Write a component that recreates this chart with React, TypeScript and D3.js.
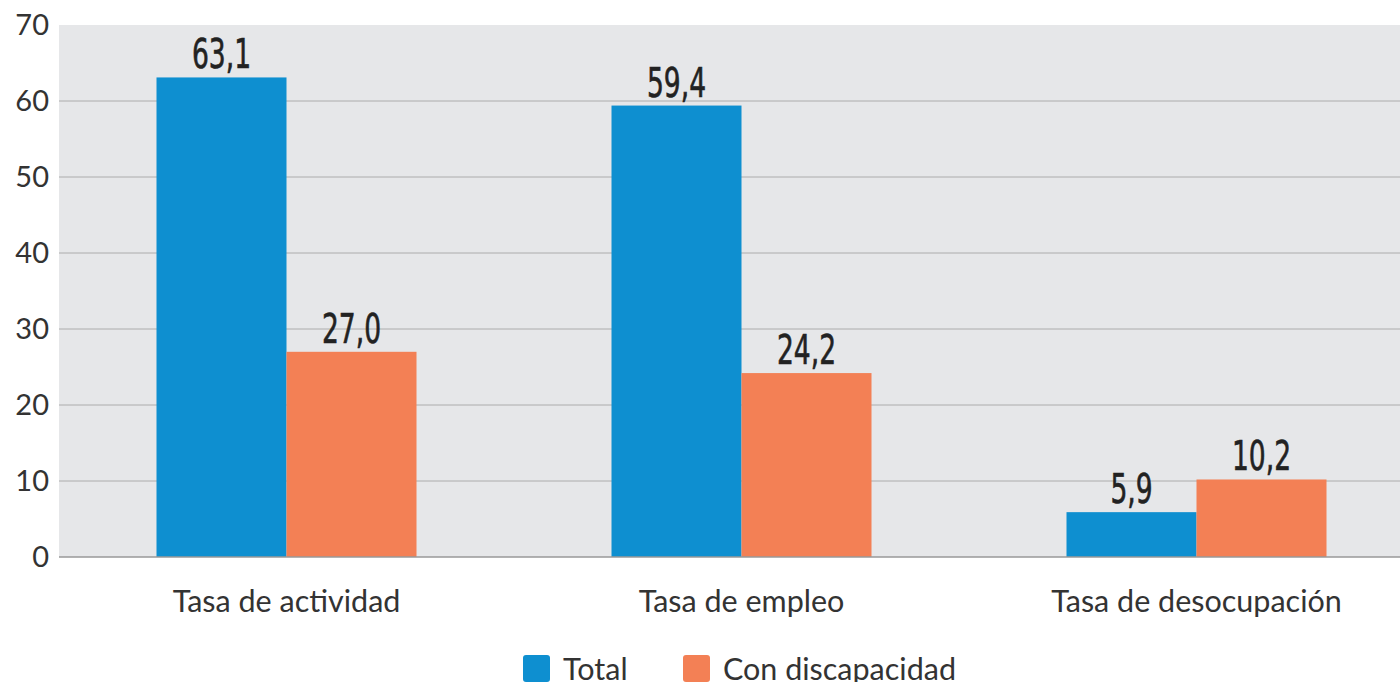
import React from "react";
import * as d3 from "d3";

const categories = ["Tasa de actividad", "Tasa de empleo", "Tasa de desocupación"];
const seriesNames = ["Total", "Con discapacidad"];
const totalValues = [63.1, 59.4, 5.9];
const discapacidadValues = [27.0, 24.2, 10.2];
const yTicks = [0, 10, 20, 30, 40, 50, 60, 70];

const colors = ["#0e8fd0", "#f38055"];

const W = 1400;
const H = 682;
const plot = { left: 59, right: 1424, top: 25, bottom: 557 };

const fmt = (v: number) => v.toFixed(1).replace(".", ",");

const App: React.FC = () => {
	const x = d3.scaleBand<string>().domain(categories).range([plot.left, plot.right]);
	const xs = d3
		.scaleBand<string>()
		.domain(seriesNames)
		.range([0, x.bandwidth()])
		.paddingInner(0)
		.paddingOuter(0.75);
	const y = d3.scaleLinear().domain([0, 70]).range([plot.bottom, plot.top]);

	const rows = categories.map((c, i) => ({
		cat: c,
		vals: [totalValues[i], discapacidadValues[i]],
	}));

	const sans = "Lato, 'Open Sans', sans-serif";
	const narrow = "'Liberation Sans Narrow', 'DejaVu Sans Condensed', sans-serif";

	return (
		<svg
			width={W}
			height={H}
			style={{ position: "absolute", left: 0, top: 0, background: "#fff" }}
		>
			<rect
				x={plot.left}
				y={plot.top}
				width={plot.right - plot.left}
				height={plot.bottom - plot.top}
				fill="#e6e7e9"
			/>
			{yTicks.map((t) => (
				<g key={t}>
					{t > 0 && t < 70 && (
						<line
							x1={plot.left}
							x2={plot.right}
							y1={y(t)}
							y2={y(t)}
							stroke="#acacac"
							strokeWidth={1}
						/>
					)}
					<text
						x={plot.left - 10}
						y={y(t)}
						dy="0.36em"
						textAnchor="end"
						fontFamily={sans}
						fontSize={29}
						fill="#333"
					>
						{t}
					</text>
				</g>
			))}
			{rows.map((r) => (
				<g key={r.cat} transform={`translate(${x(r.cat)},0)`}>
					{r.vals.map((v, j) => {
						const bx = xs(seriesNames[j])!;
						const cx = bx + xs.bandwidth() / 2;
						return (
							<g key={j}>
								<rect
									x={bx}
									y={y(v)}
									width={xs.bandwidth()}
									height={y(0) - y(v)}
									fill={colors[j]}
								/>
								<text
									transform={`translate(${cx},${y(v) - 9}) scale(0.72,1)`}
									textAnchor="middle"
									fontFamily={narrow}
									fontWeight={500}
									fontSize={41}
									fill="#222"
									stroke="#222"
									strokeWidth={0.6}
								>
									{fmt(v)}
								</text>
							</g>
						);
					})}
					<text
						x={x.bandwidth() / 2}
						y={612}
						textAnchor="middle"
						fontFamily={sans}
						fontSize={30.5}
						fill="#333"
					>
						{r.cat}
					</text>
				</g>
			))}
			<line
				x1={plot.left}
				x2={plot.right}
				y1={y(0)}
				y2={y(0)}
				stroke="#999"
				strokeWidth={1.5}
			/>
			{[
				{ name: seriesNames[0], sx: 523 },
				{ name: seriesNames[1], sx: 683 },
			].map((l, i) => (
				<g key={l.name}>
					<rect x={l.sx} y={655} width={27} height={27} rx={3} fill={colors[i]} />
					<text x={l.sx + 40} y={680} fontFamily={sans} fontSize={30.5} fill="#333">
						{l.name}
					</text>
				</g>
			))}
		</svg>
	);
};

export default App;
